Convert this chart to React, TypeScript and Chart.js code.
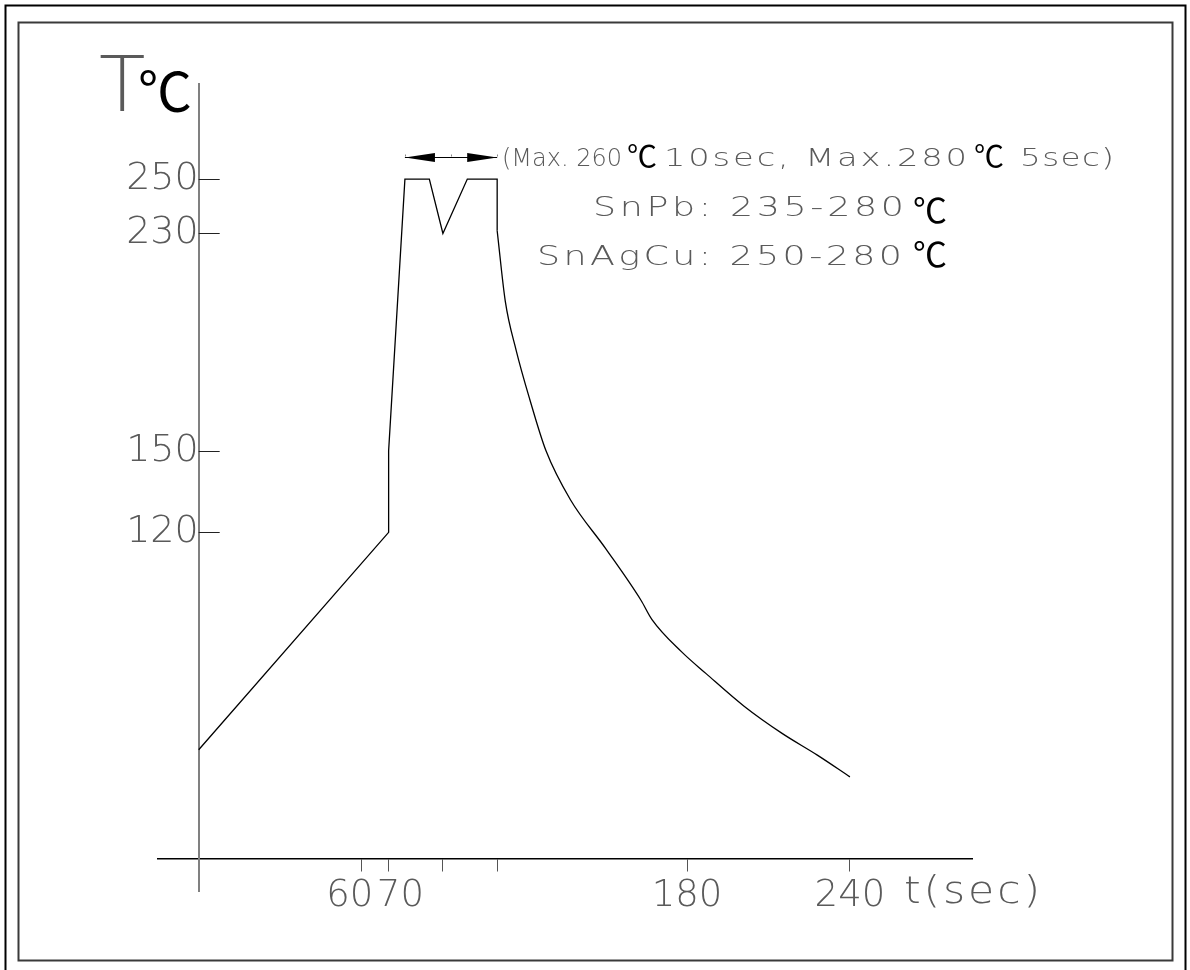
import React, { useEffect, useRef } from 'react';
import { Chart, registerables } from 'chart.js';

Chart.register(...registerables);

// Reflow soldering profile (time in seconds, temperature in °C)
// heating + peak part (straight segments)
const heatTime = [0, 70, 70, 76, 85, 90, 99, 110, 110];
const heatTemp = [40, 120, 150, 250, 250, 230, 250, 250, 231];
// cooling part (smooth curve)
const coolTime = [110, 113, 117, 122, 128, 137, 150, 163, 167, 178, 187, 201, 215, 228, 240];
const coolTemp = [231, 205, 187, 169, 150, 132, 114, 95, 88, 76, 68, 56, 46, 38, 30];

const xTickValues = [60, 70, 90, 110, 180, 240];
const xTickLabels = ['60  ', '  70', '', '', '180', '240'];
const yTickValues = [120, 150, 230, 250];
const yTickLabels = ['120', '150', '230', '250'];

const peakWindow = [76, 110];
const peakArrowLevel = 258;

const GRAY = '#5a5a5a';
const THIN = '"DejaVu Sans"';
const CJK = '"Noto Sans CJK SC"';

type Seg = { t: string; x: number; y: number; font: string; color: string; xEnd?: number; sx?: number };

function drawSegs(ctx: CanvasRenderingContext2D, segs: Seg[]) {
  for (const s of segs) {
    ctx.save();
    ctx.font = s.font;
    ctx.fillStyle = s.color;
    (ctx as any).letterSpacing = '0px';
    ctx.textAlign = 'left';
    ctx.textBaseline = 'alphabetic';
    const sx = s.sx ?? 1;
    let ls = 0;
    if (s.xEnd !== undefined && s.t.length > 1) {
      const w0 = ctx.measureText(s.t).width;
      ls = ((s.xEnd - s.x) / sx - w0) / (s.t.length - 1);
    }
    (ctx as any).letterSpacing = ls.toFixed(2) + 'px';
    ctx.translate(s.x, s.y);
    ctx.scale(sx, 1);
    ctx.fillText(s.t, 0, 0);
    ctx.restore();
  }
}

const decorPlugin = {
  id: 'decor',
  beforeDraw(chart: any) {
    const ctx = chart.ctx as CanvasRenderingContext2D;
    ctx.save();
    ctx.fillStyle = '#fff';
    ctx.fillRect(0, 0, chart.width, chart.height);
    ctx.strokeStyle = '#000';
    ctx.lineWidth = 2;
    ctx.strokeRect(5.5, 5.5, 1180, 990);
    ctx.strokeStyle = '#3a3a3a';
    ctx.lineWidth = 2;
    ctx.strokeRect(18.5, 22.5, 1154, 938);
    ctx.restore();
  },
  afterDraw(chart: any) {
    const ctx = chart.ctx as CanvasRenderingContext2D;
    const xs = chart.scales.x;
    const ys = chart.scales.y;
    const x0 = xs.getPixelForValue(0);
    ctx.save();
    // y ticks pointing inside the plot
    ctx.strokeStyle = '#222';
    ctx.lineWidth = 1;
    for (const v of yTickValues) {
      const y = Math.round(ys.getPixelForValue(v)) + 0.5;
      ctx.beginPath();
      ctx.moveTo(x0, y);
      ctx.lineTo(x0 + 21, y);
      ctx.stroke();
    }
    // double arrow over the peak window
    const ax1 = xs.getPixelForValue(peakWindow[0]);
    const ax2 = xs.getPixelForValue(peakWindow[1]);
    const ay = Math.round(ys.getPixelForValue(peakArrowLevel)) + 0.5;
    ctx.strokeStyle = '#000';
    ctx.fillStyle = '#000';
    ctx.beginPath();
    ctx.moveTo(ax1, ay);
    ctx.lineTo(ax2, ay);
    ctx.stroke();
    const hl = 30, hw = 4.5;
    ctx.beginPath();
    ctx.moveTo(ax1, ay);
    ctx.lineTo(ax1 + hl, ay - hw);
    ctx.lineTo(ax1 + hl, ay + hw);
    ctx.closePath();
    ctx.fill();
    ctx.beginPath();
    ctx.moveTo(ax2, ay);
    ctx.lineTo(ax2 - hl, ay - hw);
    ctx.lineTo(ax2 - hl, ay + hw);
    ctx.closePath();
    ctx.fill();
    ctx.fillStyle = '#888';
    for (const px of [ax1, (ax1 + ax2) / 2, ax2]) ctx.fillRect(Math.round(px), ay - 3, 1, 2);

    // axis titles and annotations
    const g25 = `200 25px ${THIN}`;
    const g27 = `200 27px ${THIN}`;
    drawSegs(ctx, [
      { t: 'T', x: 99, y: 111, font: `200 76px ${THIN}`, color: GRAY },
      { t: '℃', x: 138, y: 112, font: `400 54px ${CJK}`, color: '#000' },
      { t: '(Max. 260', x: 502, y: 166, font: `200 24px ${THIN}`, color: GRAY },
      { t: '℃', x: 627, y: 167, font: `400 30px ${CJK}`, color: '#000' },
      { t: '10sec, Max.280', x: 664, y: 166, font: g25, color: GRAY, sx: 1.35, xEnd: 967 },
      { t: '℃', x: 974, y: 167, font: `400 30px ${CJK}`, color: '#000' },
      { t: '5sec)', x: 1020, y: 166, font: g25, color: GRAY, sx: 1.3, xEnd: 1114 },
      { t: 'SnPb: 235-280', x: 593, y: 216, font: g27, color: GRAY, sx: 1.35, xEnd: 904 },
      { t: '℃', x: 913, y: 223, font: `400 34px ${CJK}`, color: '#000' },
      { t: 'SnAgCu: 250-280', x: 537, y: 265, font: g27, color: GRAY, sx: 1.35, xEnd: 902 },
      { t: '℃', x: 913, y: 267, font: `400 34px ${CJK}`, color: '#000' },
      { t: 't(sec)', x: 904, y: 903, font: `200 37px ${THIN}`, color: GRAY, sx: 1.15, xEnd: 1040 },
    ]);
    ctx.restore();
  },
};

export default function App() {
  const ref = useRef<HTMLCanvasElement | null>(null);
  useEffect(() => {
    if (!ref.current) return;
    const heat = heatTime.map((t, i) => ({ x: t, y: heatTemp[i] }));
    const cool = coolTime.map((t, i) => ({ x: t, y: coolTemp[i] }));
    const chart = new Chart(ref.current, {
      type: 'line',
      data: {
        datasets: [
          { data: heat, borderColor: '#000', borderWidth: 1.3, pointRadius: 0, tension: 0, fill: false },
          {
            data: cool,
            borderColor: '#000',
            borderWidth: 1.3,
            pointRadius: 0,
            cubicInterpolationMode: 'monotone',
            fill: false,
          },
        ],
      },
      options: {
        responsive: false,
        animation: false,
        devicePixelRatio: 1,
        layout: { padding: { left: 158, right: 218, top: 84, bottom: 79 } },
        plugins: { legend: { display: false }, tooltip: { enabled: false } },
        scales: {
          x: {
            type: 'linear',
            min: -15,
            max: 285,
            position: { y: 0 } as any,
            afterBuildTicks: (s: any) => {
              s.ticks = xTickValues.map((v) => ({ value: v }));
            },
            ticks: {
              autoSkip: false,
              maxRotation: 0,
              padding: 4,
              color: GRAY,
              font: { family: 'DejaVu Sans', size: 37, weight: '200' as any },
              callback: (v: any) => {
                const i = xTickValues.indexOf(Number(v));
                return i >= 0 ? xTickLabels[i] : '';
              },
            },
            grid: { drawOnChartArea: false, drawTicks: true, tickLength: 12, color: '#555', lineWidth: 1 },
            border: { color: '#000', width: 1.5 },
          },
          y: {
            type: 'linear',
            min: -12,
            max: 285,
            position: { x: 0 } as any,
            afterBuildTicks: (s: any) => {
              s.ticks = yTickValues.map((v) => ({ value: v }));
            },
            ticks: {
              autoSkip: false,
              padding: 6,
              color: GRAY,
              font: { family: 'DejaVu Sans', size: 38, weight: '200' as any },
              callback: (v: any) => {
                const i = yTickValues.indexOf(Number(v));
                return i >= 0 ? yTickLabels[i] : '';
              },
            },
            grid: { drawOnChartArea: false, drawTicks: false },
            border: { color: '#808080', width: 2 },
          },
        },
      },
      plugins: [decorPlugin],
    });
    return () => chart.destroy();
  }, []);
  return (
    <div style={{ position: 'absolute', left: 0, top: 0, width: 1190, height: 970, background: '#fff' }}>
      <canvas ref={ref} width={1190} height={970} />
    </div>
  );
}
